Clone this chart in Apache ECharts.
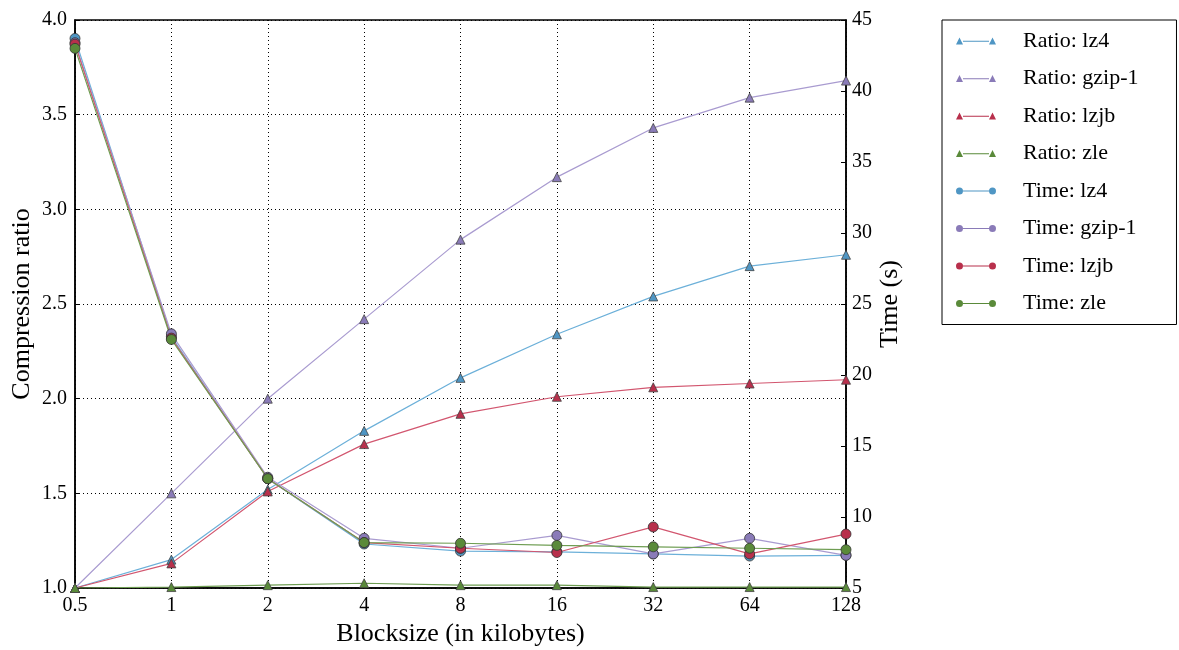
<!DOCTYPE html>
<html><head><meta charset="utf-8">
<script src="https://cdn.jsdelivr.net/npm/echarts@6/dist/echarts.min.js"></script>
<style>html,body{margin:0;padding:0;background:#fff}#c{width:1179px;height:650px}</style>
</head><body><div id="c"></div>
<script>
var categories = ['0.5','1','2','4','8','16','32','64','128'];
var ratioLz4  = [1.00, 1.15, 1.52, 1.83, 2.11, 2.34, 2.54, 2.70, 2.76];
var ratioGzip = [1.00, 1.50, 2.00, 2.42, 2.84, 3.17, 3.43, 3.59, 3.68];
var ratioLzjb = [1.00, 1.13, 1.51, 1.76, 1.92, 2.01, 2.06, 2.08, 2.10];
var ratioZle  = [1.00, 1.005, 1.015, 1.025, 1.015, 1.015, 1.005, 1.005, 1.005];
var timeLz4  = [43.7, 22.7, 12.7, 8.1, 7.6, 7.55, 7.4, 7.25, 7.3];
var timeGzip = [43.4, 22.9, 12.8, 8.5, 7.8, 8.7, 7.4, 8.5, 7.3];
var timeLzjb = [43.3, 22.6, 12.7, 8.2, 7.8, 7.5, 9.3, 7.4, 8.8];
var timeZle  = [43.0, 22.5, 12.7, 8.2, 8.15, 8.0, 7.9, 7.8, 7.7];
var names = ['lz4','gzip-1','lzjb','zle'];
var lineColors = ['#6cb0d9','#a99bd0','#d2566f','#6e9d52'];
var markColors = ['#4f96c4','#8a7bb8','#b8304c','#5a8a3a'];

var FONT = 'Liberation Serif';
var triIcon = 'path://M0,10L3.5,3L7,10Z M7,6.3L33,6.3L33,7.3L7,7.3Z M33,10L36.5,3L40,10Z';
var cirIcon = 'path://M0,6.5A3.5,3.5,0,1,0,7,6.5A3.5,3.5,0,1,0,0,6.5Z M7,6L33,6L33,7L7,7Z M33,6.5A3.5,3.5,0,1,0,40,6.5A3.5,3.5,0,1,0,33,6.5Z';
var ratios = [ratioLz4, ratioGzip, ratioLzjb, ratioZle];
var times = [timeLz4, timeGzip, timeLzjb, timeZle];
var series = [];
var legendData = [];
ratios.forEach(function(d,i){
  var n = 'Ratio: '+names[i];
  series.push({name:n, type:'line', yAxisIndex:0, data:d,
    symbol:'triangle', symbolSize:9, z:2,
    lineStyle:{color:lineColors[i], width:1.2},
    itemStyle:{color:markColors[i], borderColor:'#444', borderWidth:0.8},
    emphasis:{disabled:true}});
  legendData.push({name:n, icon:triIcon, itemStyle:{color:markColors[i], borderWidth:0}});
});
times.forEach(function(d,i){
  var n = 'Time: '+names[i];
  series.push({name:n, type:'line', yAxisIndex:1, data:d,
    symbol:'circle', symbolSize:10, z:3,
    lineStyle:{color:lineColors[i], width:1.2},
    itemStyle:{color:markColors[i], borderColor:'#333', borderWidth:0.8},
    emphasis:{disabled:true}});
  legendData.push({name:n, icon:cirIcon, itemStyle:{color:markColors[i], borderWidth:0}});
});

var chart = echarts.init(document.getElementById('c'), null, {renderer:'canvas'});
chart.setOption({
  animation:false,
  backgroundColor:'#fff',
  textStyle:{fontFamily:FONT, color:'#000'},
  grid:{left:75, right:333, top:20, bottom:62, show:true, borderColor:'#000', borderWidth:1.5,
    backgroundColor:'transparent', containLabel:false, outerBoundsMode:'none'},
  legend:{
    orient:'vertical', left:942, top:20,
    padding:[10,38,10,14], itemGap:15.5, itemWidth:40, itemHeight:10,
    borderColor:'#000', borderWidth:1,
    textStyle:{fontFamily:FONT, fontSize:22, color:'#000', padding:[0,0,0,22], lineHeight:22},
    data: legendData
  },
  xAxis:{type:'category', data:categories, boundaryGap:false,
    name:'Blocksize (in kilobytes)', nameLocation:'middle', nameGap:33, nameMoveOverlap:false,
    nameTextStyle:{fontFamily:FONT, fontSize:26, color:'#000'},
    axisLine:{lineStyle:{color:'#000', width:1.5}},
    axisTick:{inside:true, length:5, lineStyle:{color:'#000'}},
    axisLabel:{fontFamily:FONT, fontSize:20, color:'#000', margin:8, interval:0},
    splitLine:{show:true, lineStyle:{color:'#000', type:[1,3], width:1}}},
  yAxis:[
    {type:'value', min:1, max:4, interval:0.5, position:'left',
      name:'Compression ratio', nameLocation:'middle', nameGap:40, nameMoveOverlap:false,
      nameTextStyle:{fontFamily:FONT, fontSize:26, color:'#000'},
      axisLine:{show:true, lineStyle:{color:'#000', width:1.5}},
      axisTick:{show:true, inside:true, length:5, lineStyle:{color:'#000'}},
      axisLabel:{fontFamily:FONT, fontSize:20, color:'#000', margin:8, formatter:function(v){return v.toFixed(1);}},
      splitLine:{show:true, lineStyle:{color:'#000', type:[1,3], width:1}}},
    {type:'value', min:5, max:45, interval:5, position:'right',
      name:'Time (s)', nameLocation:'middle', nameGap:31, nameRotate:90, nameMoveOverlap:false,
      nameTextStyle:{fontFamily:FONT, fontSize:26, color:'#000'},
      axisLine:{show:true, lineStyle:{color:'#000', width:1.5}},
      axisTick:{show:true, inside:true, length:5, lineStyle:{color:'#000'}},
      axisLabel:{fontFamily:FONT, fontSize:20, color:'#000', margin:6},
      splitLine:{show:false}}
  ],
  series: series
});
</script></body></html>
